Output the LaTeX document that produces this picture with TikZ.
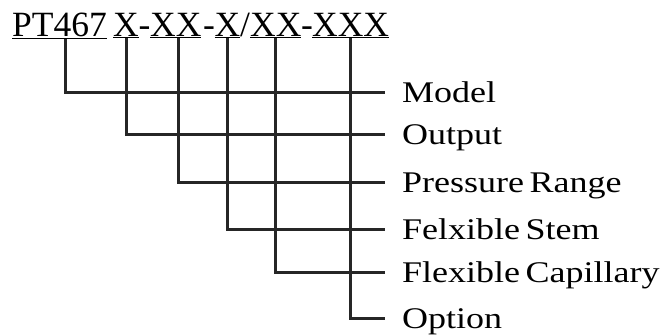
\documentclass[tikz,border=0pt]{standalone}
\usepackage{fontspec}
\setmainfont{Liberation Serif}
\newfontfamily\labelfont[FakeStretch=1.2,WordSpace=0.6]{Liberation Serif}
\tikzset{
  code/.style={anchor=base west, inner sep=0pt, font=\fontsize{35.5}{40}\selectfont},
  item/.style={anchor=west, inner xsep=17pt, inner ysep=0pt, text height=20pt,
    text depth=0pt, font=\labelfont\fontsize{30}{36}\selectfont},
  leader/.style={line width=3pt, draw=black!85},
}
\begin{document}
\begin{tikzpicture}[x=1pt, y=-1pt]
  \useasboundingbox (0,0) rectangle (661,335);
  % the order code
  \node[code] (pt) at (12,36) {\underline{PT467}};
  \node[code] (x1) at (113,36) {\underline{X}};
  \node[code] (d1) at (138.5,36) {-};
  \node[code] (xx1) at (150,36) {\underline{XX}};
  \node[code] (d2) at (203,36) {-};
  \node[code] (x2) at (214.5,36) {\underline{X}};
  \node[code] (sl) at (240,36) {/};
  \node[code] (xx2) at (250,36) {\underline{XX}};
  \node[code] (d3) at (301,36) {-};
  \node[code] (xxx) at (312,36) {\underline{XXX}};
  % the fields
  \node[item] (model) at (385,92) {Model};
  \node[item] (output) at (385,134) {Output};
  \node[item] (range) at (385,182) {Pressure Range};
  \node[item] (stem) at (385,229) {Felxible Stem};
  \node[item] (cap) at (385,272) {Flexible Capillary};
  \node[item] (option) at (385,318) {Option};
  \begin{scope}[leader]
    \draw ([xshift=6pt]pt.south) |- (model.west);
    \draw (x1.south) |- (output.west);
    \draw ([xshift=3pt]xx1.south) |- (range.west);
    \draw (x2.south) |- (stem.west);
    \draw (xx2.south) |- (cap.west);
    \draw (xxx.south) |- (option.west);
  \end{scope}
\end{tikzpicture}
\end{document}
